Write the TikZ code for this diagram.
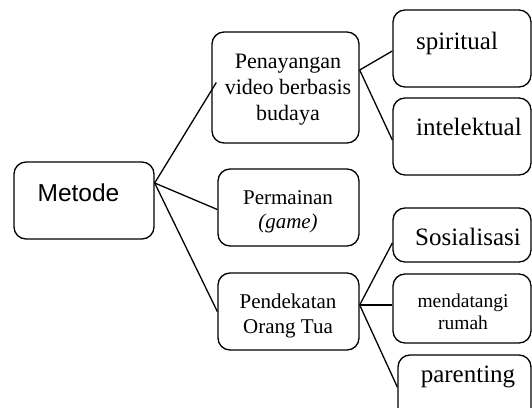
\documentclass[tikz,border=0pt]{standalone}
\usepackage{fontspec}
\setmainfont{Liberation Serif}
\newfontfamily\arialf{Liberation Sans}
\begin{document}
\begin{tikzpicture}[x=1pt,y=-1pt,
  box/.style={draw, rounded corners=12pt, line width=1.35pt, inner sep=0pt},
  conn/.style={line width=1.3pt},
  lbl/.style={anchor=base, inner sep=0pt, font=\fontsize{22}{26}\selectfont},
  lblr/.style={anchor=base, inner sep=0pt, font=\fontsize{25}{30}\selectfont}]
\useasboundingbox (0,0) rectangle (532,407);
% boxes
\node[box, minimum width=140pt, minimum height=77pt] (met) at (84,200.5) {};
\node[box, minimum width=147pt, minimum height=111pt] (pen) at (285.5,87.5) {};
\node[box, minimum width=141pt, minimum height=77pt] (per) at (288.5,207.5) {};
\node[box, minimum width=141pt, minimum height=77pt] (pnd) at (288.5,311.5) {};
\node[box, minimum width=138pt, minimum height=77pt] (spi) at (462,48.5) {};
\node[box, minimum width=138pt, minimum height=77pt] (int) at (462,136.5) {};
\node[box, minimum width=138pt, minimum height=54pt] (sos) at (462,235) {};
\node[box, minimum width=138pt, minimum height=69pt] (men) at (462,308.5) {};
\node[box, minimum width=133pt, minimum height=65pt] (par) at (464.5,387.5) {};
% texts
\node[anchor=base, inner sep=0pt, font=\arialf\fontsize{24.5}{28}\selectfont] (tmet) at (78.5,201.5) {Metode};
\node[lbl] (tpen1) at (288,68) {Penayangan};
\node[lbl] (tpen2) at (288,94) {video berbasis};
\node[lbl] (tpen3) at (288,120) {budaya};
\node[lbl, font=\fontsize{21}{25}\selectfont] (tper1) at (288,204) {Permainan};
\node[lbl, font=\fontsize{21}{25}\selectfont\itshape] (tper2) at (288,228) {(game)};
\node[lbl, font=\fontsize{21}{25}\selectfont] (tpnd1) at (288,308) {Pendekatan};
\node[lbl, font=\fontsize{21}{25}\selectfont] (tpnd2) at (288,333) {Orang Tua};
\node[lblr] (tspi) at (457,49) {spiritual};
\node[lblr] (tint) at (469,135) {intelektual};
\node[lblr] (tsos) at (468,245) {Sosialisasi};
\node[lbl, font=\fontsize{19.5}{22}\selectfont] (tmen1) at (463,307) {mendatangi};
\node[lbl, font=\fontsize{19.5}{22}\selectfont] (tmen2) at (463,329) {rumah};
\node[lblr] (tpar) at (468,382) {parenting};
% connectors
\draw[conn] ([yshift=17.5pt]met.east) -- ([xshift=5pt,yshift=5pt]pen.west);
\draw[conn] ([yshift=17.5pt]met.east) -- ([yshift=-2pt]per.west);
\draw[conn] ([yshift=17.5pt]met.east) -- (pnd.west);
\draw[conn] ([yshift=17.5pt]pen.east) -- ([yshift=-2.5pt]spi.west);
\draw[conn] ([yshift=17.5pt]pen.east) -- ([yshift=-3.5pt]int.west);
\draw[conn] ([yshift=6.5pt]pnd.east) -- ([yshift=-8pt]sos.west);
\draw[conn] ([yshift=6.5pt]pnd.east) -- ([yshift=3.5pt]men.west);
\draw[conn] ([yshift=6.5pt]pnd.east) -- ([yshift=0.5pt]par.west);
\end{tikzpicture}
\end{document}
